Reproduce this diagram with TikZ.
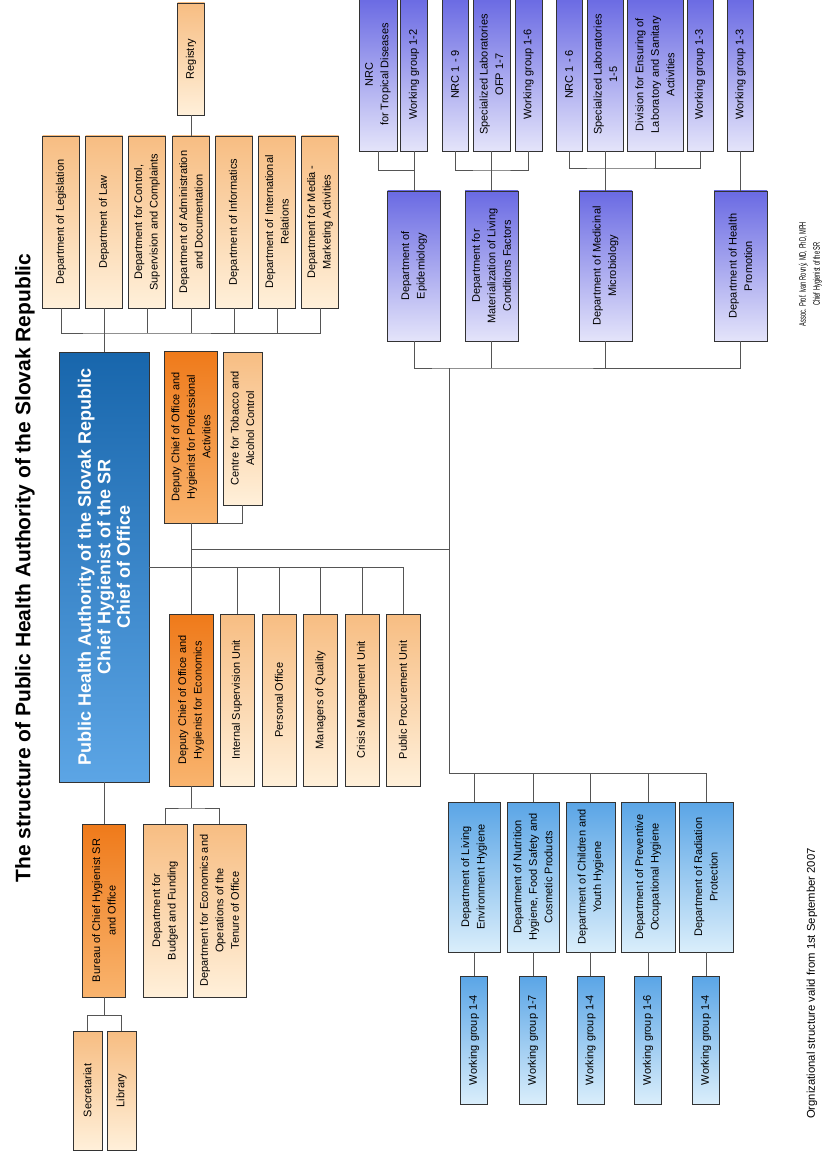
\documentclass[tikz,border=0pt]{standalone}
\usepackage{fontspec}
\setmainfont{Liberation Sans}
\usetikzlibrary{calc}
\definecolor{PeachA}{HTML}{F7BD82}
\definecolor{PeachB}{HTML}{FFF0DA}
\definecolor{AmberA}{HTML}{EF7A1A}
\definecolor{AmberB}{HTML}{F9B46E}
\definecolor{HeadA}{HTML}{1866AC}
\definecolor{HeadB}{HTML}{5CA5E5}
\definecolor{SkyA}{HTML}{5AA5E6}
\definecolor{SkyB}{HTML}{DAEEFB}
\definecolor{LilacA}{HTML}{6A6AE3}
\definecolor{LilacB}{HTML}{E4E4FA}
\definecolor{Frame}{HTML}{333333}
\definecolor{Wire}{HTML}{555555}

\begin{document}
\begin{tikzpicture}[x=1pt,y=-1pt,
    orgbox/.style={rotate=90,draw=Frame,line width=0.9pt,inner sep=1pt,align=center,
      font=\fontsize{11}{15.5}\selectfont},
    litebox/.style={orgbox,top color=PeachA,bottom color=PeachB},
    deepbox/.style={orgbox,top color=AmberA,bottom color=AmberB},
    skybox/.style={orgbox,top color=SkyA,bottom color=SkyB},
    lilacbox/.style={orgbox,top color=LilacA,bottom color=LilacB},
    wire/.style={draw=Wire,line width=1pt}]
  \fill[white] (0,0) rectangle (831,1155);
  \useasboundingbox (0,0) rectangle (831,1155);

  \node[rotate=90,font=\fontsize{21}{25}\selectfont\bfseries] (title) at (25,568)
    {The structure of Public Health Authority of the Slovak Republic};

  % head of office
  \node[orgbox,top color=HeadA,bottom color=HeadB,text=white,minimum width=430pt,minimum height=90pt,
        font=\fontsize{18}{19.5}\selectfont\bfseries] (head) at (104,567)
    {Public Health Authority of the Slovak Republic\\Chief Hygienist of the SR\\Chief of Office};

  % departments above the head
  \foreach \n/\x/\lab in {leg/61/{Department of Legislation},law/104/{Department of Law},
      ctrl/147/{Department for Control,\\Supervision and Complaints},
      adm/191/{Department of Administration\\and Documentation},inf/234/{Department of Informatics},
      intl/277/{Department of International\\Relations},media/320/{Department for Media -\\Marketing Activities}}
    \node[litebox,minimum width=172pt,minimum height=37pt] (\n) at (\x,222) {\lab};
  \node[litebox,minimum width=112pt,minimum height=27pt] (reg) at (191,59) {Registry};

  % deputies and units below the head
  \node[deepbox,minimum width=172pt,minimum height=53pt] (depP) at (191,437)
    {Deputy Chief of Office and\\Hygienist for Professional\\Activities};
  \node[litebox,minimum width=153pt,minimum height=39pt] (tob) at (242.5,428.5)
    {Centre for Tobacco and\\Alcohol Control};
  \node[deepbox,minimum width=172pt,minimum height=44pt] (depE) at (191,700)
    {Deputy Chief of Office and\\Hygienist for Economics};
  \foreach \n/\x/\lab in {isu/237/{Internal Supervision Unit},po/279/{Personal Office},
      mq/320.5/{Managers of Quality},cmu/362/{Crisis Management Unit},ppu/403/{Public Procurement Unit}}
    \node[litebox,minimum width=172pt,minimum height=34pt] (\n) at (\x,700) {\lab};
  \node[litebox,minimum width=173pt,minimum height=44pt] (bud) at (165,910.5)
    {Department for\\Budget and Funding};
  \node[litebox,minimum width=173pt,minimum height=53pt] (eco) at (219.5,910.5)
    {Department for Economics and\\Operations of the\\Tenure of Office};

  % bureau
  \node[deepbox,minimum width=173pt,minimum height=43pt] (bur) at (104,910.5)
    {Bureau of Chief Hygienist SR\\and Office};
  \node[litebox,minimum width=119pt,minimum height=29pt] (sec) at (87.5,1090.5) {Secretariat};
  \node[litebox,minimum width=119pt,minimum height=29pt] (lib) at (121.5,1090.5) {Library};

  % professional departments, upper group
  \foreach \n/\x/\lab in {epi/414/{Department of\\Epidemiology},
      mat/491.5/{Department for\\Materialization of Living\\Conditions Factors},
      mic/605.5/{Department of Medicinal\\Microbiology},hp/740.5/{Department of Health\\Promotion}}
    \node[lilacbox,minimum width=150pt,minimum height=53pt] (\n) at (\x,266) {\lab};
  \foreach \n/\x/\w/\lab in {nrcT/378/38/{NRC\\for Tropical Diseases},wgE/414/27/{Working group 1-2},
      nrc9/455/26/{NRC 1 - 9},slO/491.5/37/{Specialized Laboratories\\OFP 1-7},wgM/528.5/27/{Working group 1-6},
      nrc6/569/26/{NRC 1 - 6},slM/605.5/36/{Specialized Laboratories\\1-5},
      div/655/56/{Division for Ensuring of\\Laboratory and Sanitary\\Activities},
      wgB/700/26/{Working group 1-3},wgH/740.5/26/{Working group 1-3}}
    \node[lilacbox,minimum width=153pt,minimum height=\w pt] (\n) at (\x,74.5) {\lab};

  % hygiene departments, lower group
  \foreach \n/\x/\w/\lab in {leh/474/52/{Department of Living\\Environment Hygiene},
      nut/533/52/{Department of Nutrition\\Hygiene, Food Safety and\\Cosmetic Products},
      cyh/590.5/49/{Department of Children and\\Youth Hygiene},
      poh/648/54/{Department of Preventive\\Occupational Hygiene},
      rad/706/54/{Department of Radiation\\Protection}}
    \node[skybox,minimum width=150pt,minimum height=\w pt] (\n) at (\x,877) {\lab};
  \foreach \n/\x/\lab in {wg1/474/1-4,wg2/533/1-7,wg3/590.5/1-4,wg4/648/1-6,wg5/706/1-4}
    \node[skybox,minimum width=128pt,minimum height=27pt] (\n) at (\x,1040) {Working group \lab};

  \node[rotate=90,font=\fontsize{11.3}{13}\selectfont] (valid) at (812,983.5)
    {Orgnizational structure valid from 1st September 2007};
  \node[rotate=90,font=\fontsize{9.5}{14}\selectfont] (author) at (810,274)
    {\scalebox{0.6}[1]{\begin{tabular}{@{}c@{}}Assoc. Prof. Ivan Rovný, MD, PhD, MPH\\Chief Hygienist of the SR\end{tabular}}};

  % connectors
  \coordinate (topbus) at (104,333);
  \coordinate (ebus) at (191,808);
  \coordinate (bbus) at (104,1015);
  \coordinate (fork) at (191,549);
  \coordinate (spineT) at (449,368);
  \coordinate (spineB) at (449,773);
  \coordinate (g1) at (414,171);
  \coordinate (g2) at (491.5,171);
  \coordinate (g3) at (605.5,169);

  \draw[wire] (head.east) -- (law.west);
  \draw[wire] (leg.west) |- (topbus) -| (media.west);
  \foreach \n in {ctrl,adm,inf,intl} \draw[wire] (\n.west) -- (\n.west |- topbus);
  \draw[wire] (reg.west) -- (adm.east);

  \draw[wire] (head.south) -| (ppu.east);
  \foreach \n in {isu,po,mq,cmu} \draw[wire] (\n.east) -- (\n.east |- head.south);
  \draw[wire] (depP.west) -- (depE.east);
  \draw[wire] (tob.west) |- (depP.south west);
  \draw[wire] (depE.west) -- (ebus);
  \draw[wire] (bud.east) |- (ebus) -| (eco.east);
  \draw[wire] (head.west) -- (bur.east);
  \draw[wire] (bur.west) -- (bbus);
  \draw[wire] (sec.east) |- (bbus) -| (lib.east);

  \draw[wire] (fork) -| (spineT);
  \draw[wire] (spineT) -- (spineB);
  \draw[wire] (epi.west) |- (spineT) -| (hp.west);
  \foreach \n in {mat,mic} \draw[wire] (\n.west) -- (\n.west |- spineT);
  \draw[wire] (spineB) -| (rad.east);
  \foreach \n in {leh,nut,cyh,poh} \draw[wire] (\n.east) -- (\n.east |- spineB);
  \foreach \d/\g in {leh/wg1,nut/wg2,cyh/wg3,poh/wg4,rad/wg5} \draw[wire] (\d.west) -- (\g.east);

  \draw[wire] (wgE.west) -- (epi.east);
  \draw[wire] (nrcT.west) |- (g1);
  \draw[wire] (slO.west) -- (mat.east);
  \draw[wire] (nrc9.west) |- (g2) -| (wgM.west);
  \draw[wire] (slM.west) -- (mic.east);
  \draw[wire] (nrc6.west) |- (g3) -| (wgB.west);
  \draw[wire] (div.west) -- (div.west |- g3);
  \draw[wire] (wgH.west) -- (hp.east);
\end{tikzpicture}
\end{document}
